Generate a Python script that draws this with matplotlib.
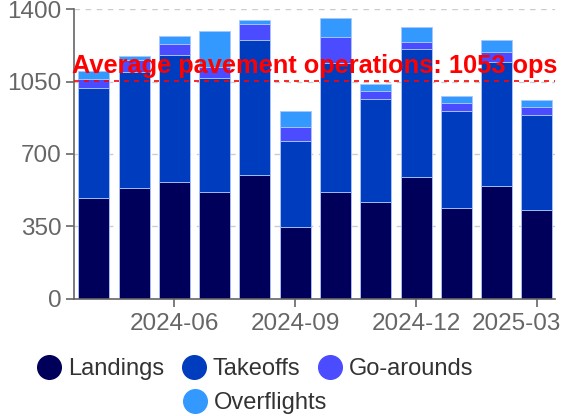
import matplotlib
matplotlib.use("Agg")
import matplotlib.pyplot as plt
import matplotlib.transforms as mtransforms
from matplotlib.lines import Line2D
import numpy as np

plt.rcParams['font.family'] = ['Liberation Sans', 'DejaVu Sans']

months = ['2024-04', '2024-05', '2024-06', '2024-07', '2024-08', '2024-09',
          '2024-10', '2024-11', '2024-12', '2025-01', '2025-02', '2025-03']
landings = [489, 537, 566, 518, 598, 345, 518, 469, 589, 439, 547, 427]
takeoffs = [529, 560, 613, 551, 655, 418, 624, 496, 617, 471, 598, 460]
go_arounds = [47, 56, 55, 54, 78, 69, 123, 40, 36, 37, 49, 39]
overflights = [37, 20, 37, 171, 16, 74, 95, 32, 74, 32, 58, 37]

series = [('Landings', landings, '#00005a'),
          ('Takeoffs', takeoffs, '#003cbe'),
          ('Go-arounds', go_arounds, '#4b4bff'),
          ('Overflights', overflights, '#3399ff')]

grey = '#666666'

fig = plt.figure(figsize=(5.64, 4.16), dpi=100)
ax = fig.add_axes([74 / 564, 1 - 298.7 / 416, (555 - 74) / 564, (298.7 - 9.3) / 416])

x = np.arange(len(months))
bottom = np.zeros(len(months))
for name, vals, col in series:
    ax.bar(x, vals, width=0.77, bottom=bottom, color=col,
           edgecolor='#a9c6ff', linewidth=0.6, zorder=2)
    bottom += np.array(vals)

avg = np.mean(np.array(landings) + np.array(takeoffs))
ax.axhline(avg, color='#ff0000', linestyle=(0, (3, 3)), linewidth=1.2, zorder=3)
# text right end sits a touch past the axes edge, baseline ~8px above the line
txt_tr = ax.get_yaxis_transform() + mtransforms.ScaledTranslation(2 / 100, 8 / 100, fig.dpi_scale_trans)
ax.text(1.0, avg, f'Average pavement operations: {avg:.0f} ops',
        transform=txt_tr, ha='right', va='baseline',
        color='#ff0000', fontsize=18.3, fontweight='bold', zorder=4)

ax.set_xlim(-0.49, 11.45)
ax.set_ylim(0, 1400)
ax.set_yticks([0, 350, 700, 1050, 1400])
ax.set_xticks(x[2::3])
ax.set_xticklabels(months[2::3])

ax.yaxis.grid(True, color='#cccccc', linestyle=(0, (4, 4)), linewidth=1, zorder=0)
ax.set_axisbelow(True)
for side in ['top', 'right']:
    ax.spines[side].set_visible(False)
for side in ['left', 'bottom']:
    ax.spines[side].set_color(grey)
    ax.spines[side].set_linewidth(1.2)
ax.tick_params(axis='both', colors=grey, labelcolor=grey, labelsize=17.5,
               length=6, width=1.2)
ax.tick_params(axis='y', pad=3)
ax.tick_params(axis='x', pad=4)

# last month label pulled back inside the figure
last = ax.get_xticklabels()[-1]
last.set_transform(last.get_transform() +
                   mtransforms.ScaledTranslation(-20 / 100, 0, fig.dpi_scale_trans))

handles = [Line2D([], [], marker='o', linestyle='none', markersize=17,
                  markerfacecolor=c, markeredgecolor=c) for _, _, c in series]
labels = [s[0] for s in series]
leg1 = fig.legend(handles[:3], labels[:3], loc='center', ncol=3,
                  bbox_to_anchor=(256 / 564, 1 - 369 / 416), frameon=False,
                  fontsize=17, handlelength=0.9, handletextpad=0.35,
                  columnspacing=0.8, labelcolor='#333333')
leg2 = fig.legend(handles[3:], labels[3:], loc='center', ncol=1,
                  bbox_to_anchor=(256 / 564, 1 - 403 / 416), frameon=False,
                  fontsize=17, handlelength=0.9, handletextpad=0.35,
                  labelcolor='#333333')

fig.savefig('out.png', dpi=100)
